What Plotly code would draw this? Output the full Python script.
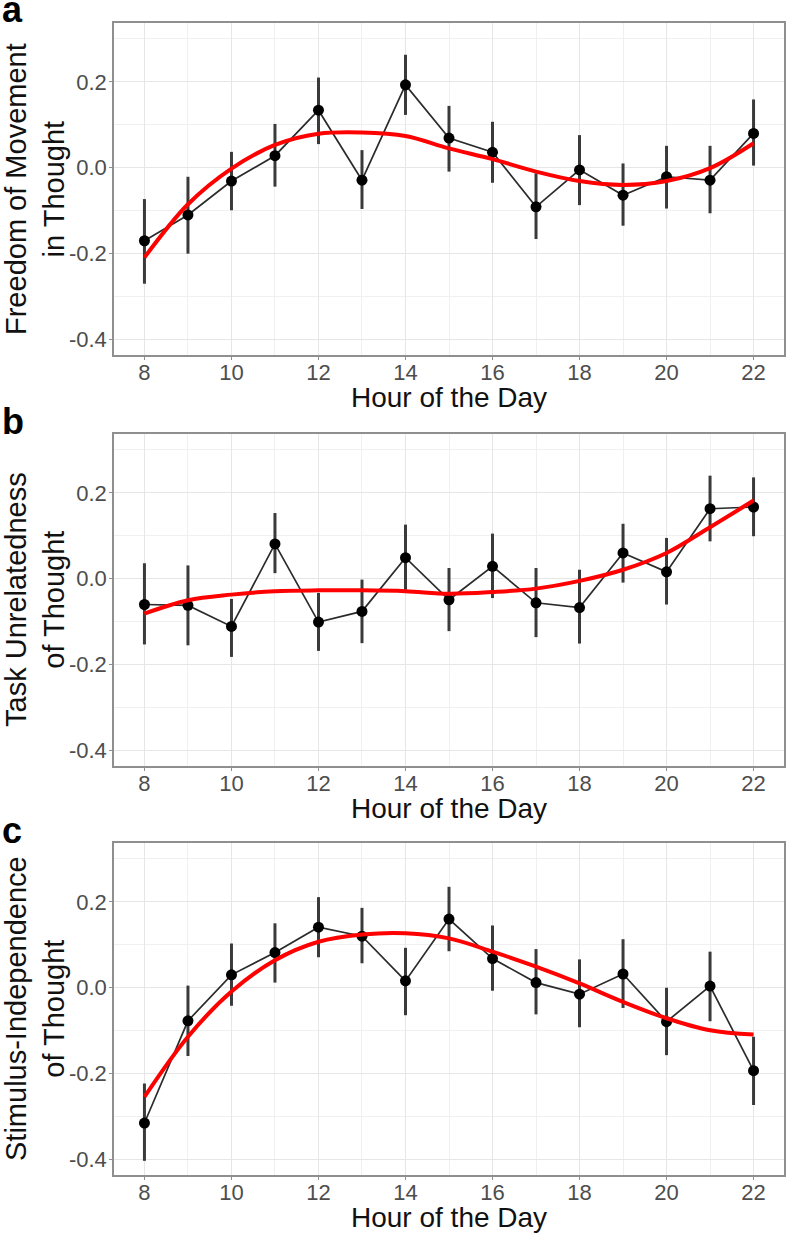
import plotly.graph_objects as go
from plotly.subplots import make_subplots

hours = list(range(8, 23))
x_ticks = [8, 10, 12, 14, 16, 18, 20, 22]
y_ticks = [-0.4, -0.2, 0.0, 0.2]
y_tick_labels = ["-0.4", "-0.2", "0.0", "0.2"]

# a: freedom of movement in thought
move_mean = [-0.170, -0.110, -0.031, 0.028, 0.134, -0.029, 0.193, 0.069, 0.036, -0.091, -0.005, -0.064, -0.021, -0.029, 0.080]
move_hi = [-0.073, -0.021, 0.037, 0.102, 0.210, 0.041, 0.263, 0.144, 0.107, -0.013, 0.076, 0.010, 0.051, 0.051, 0.159]
move_lo = [-0.270, -0.200, -0.099, -0.044, 0.055, -0.096, 0.123, -0.009, -0.035, -0.166, -0.087, -0.135, -0.095, -0.106, 0.005]
move_fit = [-0.209, -0.085, -0.002, 0.053, 0.079, 0.082, 0.074, 0.045, 0.020, -0.009, -0.031, -0.040, -0.031, -0.001, 0.057]

# b: task unrelatedness of thought
task_mean = [-0.060, -0.062, -0.111, 0.081, -0.101, -0.076, 0.049, -0.049, 0.029, -0.056, -0.067, 0.060, 0.016, 0.163, 0.167]
task_hi = [0.036, 0.031, -0.047, 0.153, -0.033, -0.002, 0.126, 0.025, 0.105, 0.025, 0.021, 0.128, 0.095, 0.240, 0.236]
task_lo = [-0.153, -0.155, -0.182, 0.013, -0.168, -0.150, -0.026, -0.122, -0.045, -0.136, -0.151, -0.009, -0.060, 0.087, 0.099]
task_fit = [-0.081, -0.050, -0.037, -0.029, -0.027, -0.027, -0.029, -0.035, -0.031, -0.023, -0.005, 0.021, 0.060, 0.120, 0.182]

# c: stimulus-independence of thought
stim_mean = [-0.315, -0.077, 0.030, 0.082, 0.141, 0.120, 0.016, 0.160, 0.068, 0.012, -0.015, 0.032, -0.079, 0.004, -0.193]
stim_hi = [-0.223, 0.005, 0.103, 0.150, 0.211, 0.186, 0.093, 0.235, 0.145, 0.090, 0.066, 0.113, 0.000, 0.084, -0.114]
stim_lo = [-0.403, -0.159, -0.042, 0.012, 0.071, 0.057, -0.064, 0.085, -0.007, -0.062, -0.092, -0.047, -0.157, -0.078, -0.273]
stim_fit = [-0.254, -0.114, -0.009, 0.064, 0.107, 0.124, 0.127, 0.115, 0.084, 0.049, 0.010, -0.033, -0.071, -0.099, -0.109]

panels = [
    ("a", "Freedom of Movement<br>in Thought", move_mean, move_hi, move_lo, move_fit),
    ("b", "Task Unrelatedness<br>of Thought", task_mean, task_hi, task_lo, task_fit),
    ("c", "Stimulus-Independence<br>of Thought", stim_mean, stim_hi, stim_lo, stim_fit),
]

W, H = 787, 1234
# plot area boxes in pixels (top, bottom)
boxes = [(23, 355), (434, 766), (843, 1175)]
x_left, x_right = 114, 784

font = "Liberation Sans, Arial, sans-serif"

fig = make_subplots(rows=3, cols=1)

for i, (letter, ytitle, mean, hi, lo, fit) in enumerate(panels):
    row = i + 1
    up = [h - m for h, m in zip(hi, mean)]
    down = [m - l for m, l in zip(mean, lo)]
    fig.add_trace(go.Scatter(
        x=hours, y=mean, mode="lines+markers",
        line=dict(color="#2b2b2b", width=1.7),
        marker=dict(color="black", size=11),
        error_y=dict(type="data", array=up, arrayminus=down, symmetric=False,
                     color="#3a3a3a", thickness=3, width=0),
        showlegend=False,
    ), row=row, col=1)
    fig.add_trace(go.Scatter(
        x=hours, y=fit, mode="lines", line=dict(color="#ff0000", width=4, shape="spline"),
        showlegend=False,
    ), row=row, col=1)

    top, bottom = boxes[i]
    suffix = "" if i == 0 else str(row)
    fig.layout["xaxis" + suffix].update(domain=[x_left / W, x_right / W])
    fig.layout["yaxis" + suffix].update(domain=[1 - bottom / H, 1 - top / H])

    mid_y = 1 - (top + bottom) / 2 / H
    fig.add_annotation(text=ytitle, xref="paper", yref="paper", x=35 / W, y=mid_y,
                       textangle=-90, showarrow=False, xanchor="center", yanchor="middle",
                       font=dict(size=29, color="#111111", family=font))
    fig.add_annotation(text="Hour of the Day", xref="paper", yref="paper",
                       x=(x_left + x_right) / 2 / W, y=1 - (bottom + 42) / H,
                       showarrow=False, xanchor="center", yanchor="middle",
                       font=dict(size=28, color="#111111", family=font))
    fig.add_annotation(text="<b>%s</b>" % letter, xref="paper", yref="paper",
                       x=0, y=1 - (top - 13) / H, showarrow=False,
                       xanchor="left", yanchor="middle",
                       font=dict(size=36, color="black", family=font))

fig.update_xaxes(
    range=[7.3, 22.7], tickmode="array", tickvals=x_ticks,
    showgrid=True, gridcolor="#e6e6e6", gridwidth=1,
    minor=dict(tickmode="linear", tick0=7, dtick=1, showgrid=True, gridcolor="#f0f0f0", gridwidth=1),
    showline=True, mirror=True, linecolor="#8f8f8f", linewidth=1.5,
    ticks="outside", ticklen=3, tickcolor="#8f8f8f", ticklabelstandoff=-6,
    tickfont=dict(size=22, color="#4d4d4d", family=font),
    zeroline=False, automargin=False,
)
fig.update_yaxes(
    range=[-0.436, 0.337], tickmode="array", tickvals=y_ticks, ticktext=y_tick_labels,
    showgrid=True, gridcolor="#e6e6e6", gridwidth=1,
    minor=dict(tickmode="linear", tick0=-0.5, dtick=0.1, showgrid=True, gridcolor="#f0f0f0", gridwidth=1),
    showline=True, mirror=True, linecolor="#8f8f8f", linewidth=1.5,
    ticks="outside", ticklen=3, tickcolor="#8f8f8f", ticklabelstandoff=-2,
    tickfont=dict(size=22, color="#4d4d4d", family=font),
    zeroline=False, automargin=False,
)

fig.update_layout(
    width=W, height=H, margin=dict(l=0, r=0, t=0, b=0),
    paper_bgcolor="white", plot_bgcolor="white",
    font=dict(family=font), showlegend=False,
)

fig.write_html("out.html", config={"displayModeBar": False},
               post_script="document.body.style.margin='0';document.body.style.overflow='hidden';")
